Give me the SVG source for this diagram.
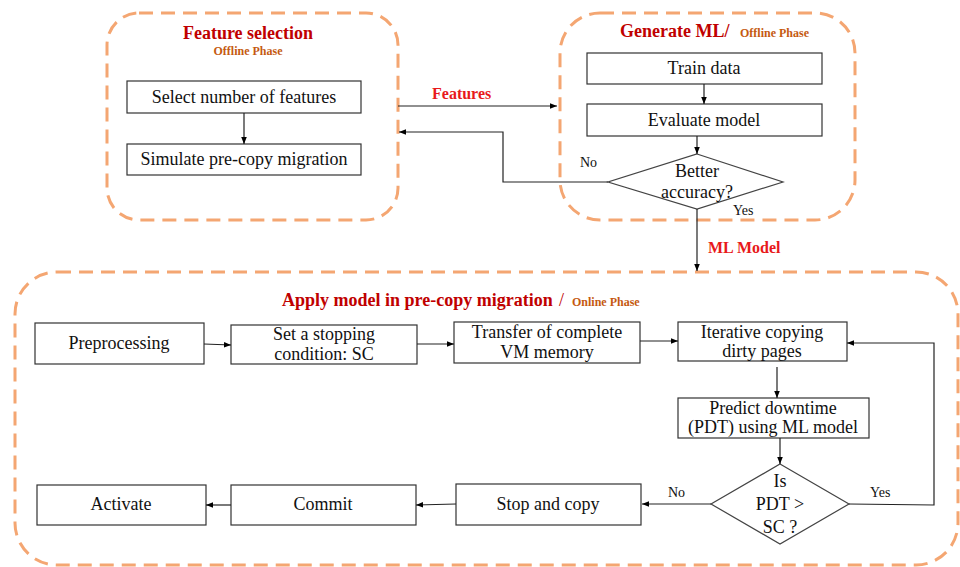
<svg xmlns="http://www.w3.org/2000/svg" width="960" height="567" viewBox="0 0 960 567" font-family="'Liberation Serif', 'DejaVu Serif', serif">
  <defs>
    <marker id="arr" viewBox="0 0 10 10" refX="10" refY="5" markerWidth="7" markerHeight="7" orient="auto" markerUnits="userSpaceOnUse">
      <path d="M0,1 L10,5 L0,9 z" fill="#000"/>
    </marker>
  </defs>
  <style>
    text { font-family: 'Liberation Serif', 'DejaVu Serif', serif; }
    .phase { fill: none; stroke: #F4A672; stroke-width: 3; stroke-dasharray: 14 8; }
    .box { fill: #fff; stroke: #333; stroke-width: 1.2; }
    .dia { fill: #fff; stroke: #444; stroke-width: 1.2; }
    .lbl { font-size: 18px; fill: #111; text-anchor: middle; }
    .small { font-size: 14px; fill: #111; }
    .title { font-size: 18px; font-weight: bold; fill: #C00000; }
    .sub { font-size: 12px; font-weight: bold; fill: #C55A11; }
    .flow { font-size: 16px; font-weight: bold; fill: #E8191B; }
    .conn { fill: none; stroke: #222; stroke-width: 1.2; }
  </style>
  <rect width="960" height="567" fill="#fff"/>

  <!-- phase containers -->
  <g id="phase-feature-selection">
    <rect class="phase" x="107" y="13" width="291" height="207" rx="32"/>
    <text class="title" x="248" y="39" text-anchor="middle">Feature selection</text>
    <text class="sub" x="248" y="55" text-anchor="middle">Offline Phase</text>
  </g>
  <g id="phase-generate-ml">
    <rect class="phase" x="560" y="13" width="295" height="207" rx="40"/>
    <text class="title" x="620" y="37">Generate ML/</text>
    <text class="sub" x="740" y="37">Offline Phase</text>
  </g>
  <g id="phase-online">
    <rect class="phase" x="15" y="272" width="943" height="293" rx="42"/>
    <text class="title" x="282" y="306">Apply model in pre-copy migration</text>
    <text class="title" x="559" y="306" style="font-weight:normal">/</text>
    <text class="sub" x="572" y="306">Online Phase</text>
  </g>

  <!-- nodes -->
  <g id="select-features">
    <rect class="box" x="127" y="81" width="234" height="32"/>
    <text class="lbl" x="244" y="103">Select number of  features</text>
  </g>
  <g id="simulate-migration">
    <rect class="box" x="127" y="144" width="234" height="31"/>
    <text class="lbl" x="244" y="165">Simulate pre-copy migration</text>
  </g>
  <g id="train-data">
    <rect class="box" x="587" y="53" width="235" height="31"/>
    <text class="lbl" x="704" y="74">Train data</text>
  </g>
  <g id="evaluate-model">
    <rect class="box" x="587" y="104" width="235" height="32"/>
    <text class="lbl" x="704" y="126">Evaluate model</text>
  </g>
  <g id="better-accuracy">
    <polygon class="dia" points="697,154 783,182 697,209 608,182"/>
    <text class="lbl" x="697" y="177">Better</text>
    <text class="lbl" x="697" y="198">accuracy?</text>
  </g>
  <g id="preprocessing">
    <rect class="box" x="35" y="323" width="169" height="41"/>
    <text class="lbl" x="119" y="349">Preprocessing</text>
  </g>
  <g id="stopping-condition">
    <rect class="box" x="231" y="325" width="186" height="39"/>
    <text class="lbl" x="324" y="340">Set a stopping</text>
    <text class="lbl" x="324" y="360">condition: SC</text>
  </g>
  <g id="transfer-memory">
    <rect class="box" x="454" y="322" width="186" height="41"/>
    <text class="lbl" x="547" y="338">Transfer of  complete</text>
    <text class="lbl" x="547" y="358">VM memory</text>
  </g>
  <g id="iterative-copy">
    <rect class="box" x="678" y="322" width="169" height="39"/>
    <text class="lbl" x="762" y="338">Iterative copying</text>
    <text class="lbl" x="762" y="357">dirty pages</text>
  </g>
  <g id="predict-downtime">
    <rect class="box" x="678" y="398" width="191" height="40"/>
    <text class="lbl" x="773" y="414">Predict downtime</text>
    <text class="lbl" x="773" y="433">(PDT) using ML model</text>
  </g>
  <g id="pdt-check">
    <polygon class="dia" points="780,464 849,504 780,544 711,504"/>
    <text class="lbl" x="780" y="487">Is</text>
    <text class="lbl" x="780" y="510">PDT &gt;</text>
    <text class="lbl" x="780" y="533">SC ?</text>
  </g>
  <g id="stop-copy">
    <rect class="box" x="456" y="484" width="185" height="41"/>
    <text class="lbl" x="548" y="510">Stop and copy</text>
  </g>
  <g id="commit">
    <rect class="box" x="231" y="485" width="185" height="40"/>
    <text class="lbl" x="323" y="510">Commit</text>
  </g>
  <g id="activate">
    <rect class="box" x="37" y="485" width="169" height="40"/>
    <text class="lbl" x="121" y="510">Activate</text>
  </g>

  <!-- connectors -->
  <g id="connectors">
    <line class="conn" x1="244" y1="113" x2="244" y2="144" marker-end="url(#arr)"/>
    <line class="conn" x1="704" y1="84" x2="704" y2="104" marker-end="url(#arr)"/>
    <line class="conn" x1="697" y1="136" x2="697" y2="154" marker-end="url(#arr)"/>
    <line class="conn" x1="398" y1="106" x2="557" y2="106" marker-end="url(#arr)"/>
    <polyline class="conn" points="608,182 503,182 503,132 399,132" marker-end="url(#arr)"/>
    <line class="conn" x1="697" y1="209" x2="697" y2="271" marker-end="url(#arr)"/>
    <line class="conn" x1="204" y1="344" x2="231" y2="345" marker-end="url(#arr)"/>
    <line class="conn" x1="417" y1="344" x2="454" y2="344" marker-end="url(#arr)"/>
    <line class="conn" x1="640" y1="341" x2="678" y2="341" marker-end="url(#arr)"/>
    <line class="conn" x1="777" y1="367" x2="777" y2="398" marker-end="url(#arr)"/>
    <line class="conn" x1="780" y1="438" x2="780" y2="464" marker-end="url(#arr)"/>
    <polyline class="conn" points="849,504 934,505 934,343 847,343" marker-end="url(#arr)"/>
    <line class="conn" x1="711" y1="504" x2="642" y2="504" marker-end="url(#arr)"/>
    <line class="conn" x1="456" y1="504" x2="416" y2="505" marker-end="url(#arr)"/>
    <line class="conn" x1="231" y1="505" x2="206" y2="505" marker-end="url(#arr)"/>
    <text class="flow" x="432" y="99">Features</text>
    <text class="flow" x="708" y="253">ML Model</text>
    <text class="small" x="580" y="167">No</text>
    <text class="small" x="733" y="215">Yes</text>
    <text class="small" x="668" y="497">No</text>
    <text class="small" x="870" y="497">Yes</text>
  </g>
</svg>
